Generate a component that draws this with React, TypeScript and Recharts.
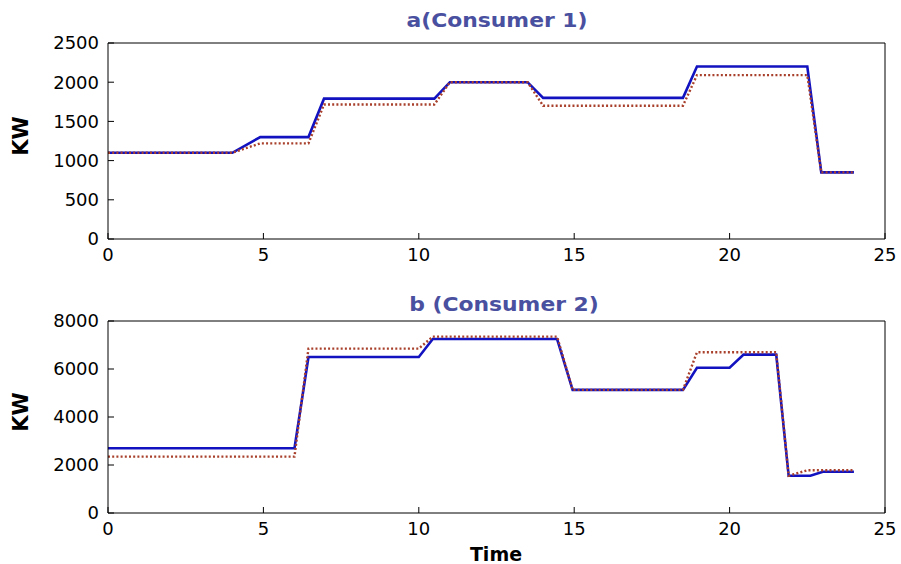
import { LineChart, Line, XAxis, YAxis } from "recharts";

// hour of day on the shared x axis
const hourTicks = [0, 5, 10, 15, 20, 25];

// consumer 1
const c1Ticks = [0, 500, 1000, 1500, 2000, 2500];
const c1ActualTime = [0, 4, 4.9, 6.45, 6.95, 10.5, 11, 13.5, 14, 18.5, 18.95, 22.5, 22.95, 24];
const c1ActualKw = [1100, 1100, 1300, 1300, 1790, 1790, 2000, 2000, 1800, 1800, 2200, 2200, 850, 850];
const c1PlanTime = [0, 4, 4.9, 6.45, 6.95, 10.5, 11, 13.5, 14, 18.5, 18.95, 22.5, 22.95, 24];
const c1PlanKw = [1100, 1100, 1220, 1220, 1715, 1715, 2000, 2000, 1700, 1700, 2090, 2090, 850, 850];

// consumer 2
const c2Ticks = [0, 2000, 4000, 6000, 8000];
const c2ActualTime = [0, 6, 6.45, 10, 10.45, 14.45, 14.95, 18.5, 18.95, 20, 20.45, 21.5, 21.9, 22.6, 23, 24];
const c2ActualKw = [2700, 2700, 6500, 6500, 7250, 7250, 5130, 5130, 6050, 6050, 6600, 6600, 1550, 1550, 1720, 1720];
const c2PlanTime = [0, 6, 6.45, 10, 10.45, 14.45, 14.95, 18.5, 18.95, 21.5, 21.9, 22.5, 24];
const c2PlanKw = [2350, 2350, 6850, 6850, 7350, 7350, 5130, 5130, 6700, 6700, 1550, 1780, 1780];

const zip = (t: number[], kw: number[]) => t.map((h, i) => ({ t: h, kw: kw[i] }));

const FONT = "DejaVu Sans";
const TITLE = "#4a50a0";

function BottomTick({ x, y, payload }: any) {
	return (
		<g>
			<line x1={x} y1={y} x2={x} y2={y - 6} stroke="#000" />
			<text x={x} y={y + 22} textAnchor="middle" fontFamily={FONT} fontSize={18} fill="#000">
				{payload.value}
			</text>
		</g>
	);
}

function TopTick({ x, y }: any) {
	return <line x1={x} y1={y} x2={x} y2={y + 6} stroke="#000" />;
}

function LeftTick({ x, y, payload }: any) {
	return (
		<g>
			<line x1={x} y1={y} x2={x + 6} y2={y} stroke="#000" />
			<text x={x - 9} y={y} dy="0.36em" textAnchor="end" fontFamily={FONT} fontSize={18} fill="#000">
				{payload.value}
			</text>
		</g>
	);
}

function RightTick({ x, y }: any) {
	return <line x1={x} y1={y} x2={x - 6} y2={y} stroke="#000" />;
}

interface PanelProps {
	top: number;
	height: number;
	marginTop: number;
	marginBottom: number;
	yMax: number;
	yTicks: number[];
	actual: { t: number; kw: number }[];
	plan: { t: number; kw: number }[];
}

function Panel({ top, height, marginTop, marginBottom, yMax, yTicks, actual, plan }: PanelProps) {
	return (
		<div style={{ position: "absolute", left: 0, top }}>
			<LineChart width={901} height={height} margin={{ top: marginTop, right: 15, bottom: marginBottom, left: 0 }}>
				<XAxis
					dataKey="t"
					type="number"
					domain={[0, 25]}
					ticks={hourTicks}
					height={30}
					tickSize={0}
					tickMargin={0}
					tickLine={false}
					axisLine={{ stroke: "#000" }}
					tick={<BottomTick />}
				/>
				<XAxis
					xAxisId="top"
					orientation="top"
					dataKey="t"
					type="number"
					domain={[0, 25]}
					ticks={hourTicks}
					height={1}
					tickSize={0}
					tickMargin={0}
					tickLine={false}
					axisLine={{ stroke: "#000" }}
					tick={<TopTick />}
				/>
				<YAxis
					dataKey="kw"
					type="number"
					domain={[0, yMax]}
					ticks={yTicks}
					width={108}
					tickSize={0}
					tickMargin={0}
					tickLine={false}
					axisLine={{ stroke: "#000" }}
					tick={<LeftTick />}
				/>
				<YAxis
					yAxisId="right"
					orientation="right"
					dataKey="kw"
					type="number"
					domain={[0, yMax]}
					ticks={yTicks}
					width={1}
					tickSize={0}
					tickMargin={0}
					tickLine={false}
					axisLine={{ stroke: "#000" }}
					tick={<RightTick />}
				/>
				<Line
					data={actual}
					dataKey="kw"
					type="linear"
					stroke="#1212c0"
					strokeWidth={2.6}
					dot={false}
					isAnimationActive={false}
				/>
				<Line
					data={plan}
					dataKey="kw"
					type="linear"
					stroke="#a8402c"
					strokeWidth={2.4}
					strokeDasharray="2 2.2"
					dot={false}
					isAnimationActive={false}
				/>
			</LineChart>
		</div>
	);
}

const labelStyle: React.CSSProperties = {
	position: "absolute",
	fontFamily: FONT,
	fontWeight: "bold",
	whiteSpace: "nowrap",
	lineHeight: 1,
};

export default function App() {
	return (
		<div style={{ position: "absolute", left: 0, top: 0, width: 901, height: 564, background: "#fff" }}>
			<Panel
				top={0}
				height={280}
				marginTop={42}
				marginBottom={11}
				yMax={2500}
				yTicks={c1Ticks}
				actual={zip(c1ActualTime, c1ActualKw)}
				plan={zip(c1PlanTime, c1PlanKw)}
			/>
			<Panel
				top={280}
				height={284}
				marginTop={40}
				marginBottom={21}
				yMax={8000}
				yTicks={c2Ticks}
				actual={zip(c2ActualTime, c2ActualKw)}
				plan={zip(c2PlanTime, c2PlanKw)}
			/>
			<div style={{ ...labelStyle, left: 497, top: 20, fontSize: 19, color: TITLE, transform: "translate(-50%, -50%) scaleX(1.15)" }}>
				a(Consumer 1)
			</div>
			<div style={{ ...labelStyle, left: 504, top: 304, fontSize: 19, color: TITLE, transform: "translate(-50%, -50%) scaleX(1.15)" }}>
				b (Consumer 2)
			</div>
			<div style={{ ...labelStyle, left: 21, top: 136, fontSize: 21, transform: "translate(-50%, -50%) rotate(-90deg)" }}>
				KW
			</div>
			<div style={{ ...labelStyle, left: 21, top: 412, fontSize: 21, transform: "translate(-50%, -50%) rotate(-90deg)" }}>
				KW
			</div>
			<div style={{ ...labelStyle, left: 496, top: 554, fontSize: 19, transform: "translate(-50%, -50%)" }}>
				Time
			</div>
		</div>
	);
}
